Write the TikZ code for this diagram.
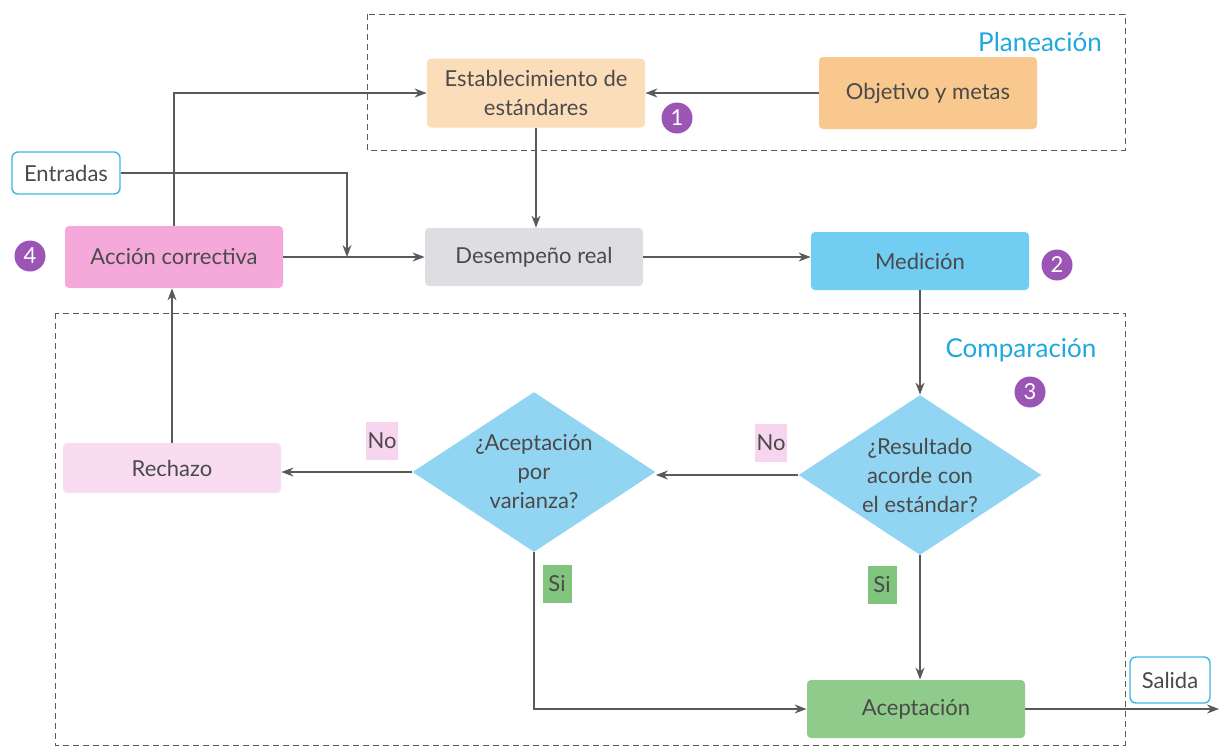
\documentclass[tikz,border=0pt]{standalone}
\usepackage{fontspec}
\setmainfont{Lato}
\usetikzlibrary{positioning, shapes.geometric, arrows.meta, calc}
\definecolor{txtgray}{HTML}{4A4A4A}
\definecolor{linegray}{HTML}{5A5A5A}
\definecolor{estpeach}{HTML}{FCDDBA}
\definecolor{objorange}{HTML}{F8C88E}
\definecolor{accpink}{HTML}{F5A9DA}
\definecolor{despgray}{HTML}{DEDEE2}
\definecolor{medcyan}{HTML}{72CDF2}
\definecolor{diacyan}{HTML}{92D5F3}
\definecolor{rechpink}{HTML}{FADCF2}
\definecolor{noPink}{HTML}{F7D5EF}
\definecolor{acepgreen}{HTML}{8FCB8B}
\definecolor{siGreen}{HTML}{80C47D}
\definecolor{badgepurple}{HTML}{9A55B5}
\definecolor{titlecyan}{HTML}{1FA8DE}
\definecolor{ioCyan}{HTML}{3DB8E2}

\begin{document}
\begin{tikzpicture}[x=0.5pt, y=-0.5pt,
    every node/.style={font=\fontsize{11}{14.5}\selectfont, text=txtgray},
    box/.style={rounded corners=2pt, minimum width=109pt, minimum height=31pt, align=center, inner sep=2pt},
    decision/.style={diamond, aspect=1.5, inner sep=0pt, minimum width=121.5pt, minimum height=80pt, align=center, fill=diacyan},
    iobox/.style={draw=ioCyan, line width=0.7pt, fill=white, rounded corners=3pt, inner sep=2pt},
    tag/.style={inner sep=1pt, minimum width=14.5pt, minimum height=19pt},
    badge/.style={circle, fill=badgepurple, text=white, minimum size=15.5pt, inner sep=0pt},
    conn/.style={draw=linegray, line width=0.6pt, -{Stealth[length=6pt, width=4.5pt]}},
    zone/.style={draw=linegray, line width=0.5pt, densely dashed},
    zonetitle/.style={font=\fontsize{13}{15}\selectfont, text=titlecyan}
  ]
    \useasboundingbox (0,0) rectangle (1220,751);

    \draw[zone] (367,14) rectangle (1125,150);
    \draw[zone] (55,313) rectangle (1125,745);
    \node[zonetitle] (tplan) at (1040,42) {Planeación};
    \node[zonetitle] (tcomp) at (1021,350) {Comparación};

    \node[box, fill=estpeach, minimum height=34.5pt] (est) at (536,93) {Establecimiento de\\estándares};
    \node[box, fill=objorange, minimum height=36pt] (obj) at (928,93) {Objetivo y metas};
    \node[iobox, minimum width=54pt, minimum height=21pt] (ent) at (66,173) {Entradas};
    \node[box, fill=accpink] (acc) at (174,257) {Acción correctiva};
    \node[box, fill=despgray, minimum height=29pt] (des) at (534,257) {Desempeño real};
    \node[box, fill=medcyan, minimum height=29pt] (med) at (920,261) {Medición};

    \node[decision] (res) at (920,475) {¿Resultado\\acorde con\\el estándar?};
    \node[decision] (varz) at (534,472) {¿Aceptación\\por\\varianza?};
    \node[box, fill=rechpink, minimum height=25pt] (rech) at (172,468) {Rechazo};
    \node[box, fill=acepgreen, minimum height=29pt] (acep) at (916,709) {Aceptación};
    \node[iobox, minimum width=40pt, minimum height=23pt] (sal) at (1170,680) {Salida};

    \node[tag, fill=noPink] (no1) at (382,441) {No};
    \node[tag, fill=noPink] (no2) at (771,443) {No};
    \node[tag, fill=siGreen] (si1) at (557,584) {Si};
    \node[tag, fill=siGreen] (si2) at (882,585) {Si};

    \foreach \n/\x/\y in {1/677/118, 2/1057/265, 3/1030/392, 4/30/256}
      \node[badge] (b\n) at (\x,\y) {\n};

    \coordinate (merge) at (347,257);
    \coordinate (out) at (1219,709);

    \draw[conn] (obj.west) -- (est.east);
    \draw[conn] (est.south) -- (est.south |- des.north);
    \draw[conn] (acc.north) |- (est.west);
    \draw[conn] (ent.east) -| (merge);
    \draw[conn] (acc.east) -- (des.west);
    \draw[conn] (des.east) -- (des.east -| med.west);
    \draw[conn] (med.south) -- (res.north);
    \draw[conn] (res.west) -- (res.west -| varz.east);
    \draw[conn] (varz.west) -- (varz.west -| rech.east);
    \draw[conn] (rech.north) -- (rech.north |- acc.south);
    \draw[conn] (res.south) -- (res.south |- acep.north);
    \draw[conn] (varz.south) |- (acep.west);
    \draw[conn] (acep.east) -- (out);
  \end{tikzpicture}
\end{document}
